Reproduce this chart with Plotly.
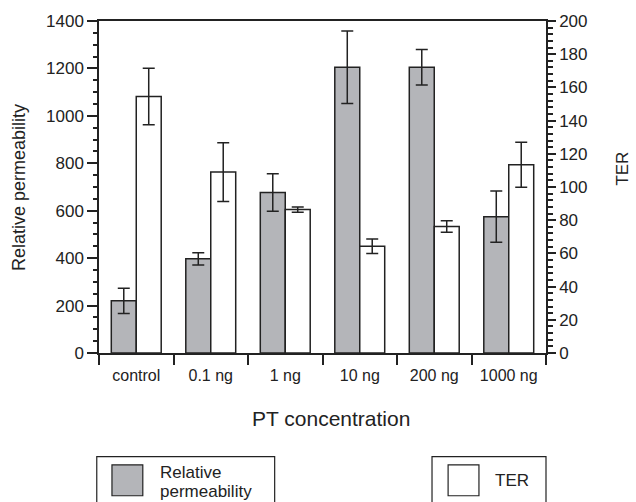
import plotly.graph_objects as go

# PT concentration groups
categories = ["control", "0.1 ng", "1 ng", "10 ng", "200 ng", "1000 ng"]

# Relative permeability (left axis) with error
perm_values = [220, 397, 677, 1205, 1205, 575]
perm_errors = [53, 26, 79, 153, 75, 108]

# Transepithelial resistance (right axis) with error
ter_values = [154.5, 109, 86.4, 64.3, 76.2, 113.4]
ter_errors = [17, 17.7, 1.6, 4.3, 3.4, 13.5]

FONT = "Liberation Sans, Arial, sans-serif"
INK = "#222222"
GRAY = "#b4b5b9"

fig = go.Figure()

fig.add_trace(go.Bar(
    x=categories, y=perm_values, name="Relative permeability",
    marker=dict(color=GRAY, line=dict(color=INK, width=1.5)),
    error_y=dict(type="data", array=perm_errors, color=INK, thickness=1.5, width=6),
    offsetgroup="perm", yaxis="y",
))
fig.add_trace(go.Bar(
    x=categories, y=ter_values, name="TER",
    marker=dict(color="white", line=dict(color=INK, width=1.5)),
    error_y=dict(type="data", array=ter_errors, color=INK, thickness=1.5, width=6),
    offsetgroup="ter", yaxis="y2",
))

axis_common = dict(
    showline=True, linecolor=INK, linewidth=1.5,
    ticks="outside", tickcolor=INK, tickwidth=1.5,
    showgrid=False, zeroline=False,
)

fig.update_layout(
    width=636, height=502,
    margin=dict(l=99, r=90, t=19, b=149),
    paper_bgcolor="white", plot_bgcolor="white",
    barmode="group", bargap=0.33, bargroupgap=0,
    showlegend=False,
    font=dict(family=FONT, color=INK),
    xaxis=dict(
        **axis_common, ticklen=10, tickson="boundaries", mirror=True,
        type="category", ticklabelstandoff=7,
        tickfont=dict(family=FONT, size=16, color=INK),
    ),
    yaxis=dict(
        **axis_common, range=[0, 1400], dtick=200, ticklen=10,
        tickfont=dict(family=FONT, size=17, color=INK),
        minor=dict(dtick=50, ticks="outside", ticklen=4, tickcolor=INK, tickwidth=1.5),
    ),
    yaxis2=dict(
        **axis_common, range=[0, 200], dtick=20, ticklen=8,
        overlaying="y", side="right",
        tickfont=dict(family=FONT, size=17, color=INK),
        minor=dict(dtick=4, ticks="outside", ticklen=5, tickcolor=INK, tickwidth=1.5),
    ),
)

# Axis titles
fig.add_annotation(text="Relative permeability", xref="paper", yref="paper",
                   x=-0.179, y=0.5, xanchor="center", yanchor="middle",
                   textangle=-90, showarrow=False,
                   font=dict(family=FONT, size=18))
fig.add_annotation(text="TER", xref="paper", yref="paper",
                   x=1.172, y=0.555, xanchor="center", yanchor="middle",
                   textangle=-90, showarrow=False,
                   font=dict(family=FONT, size=17))
fig.add_annotation(text="PT concentration", xref="paper", yref="paper",
                   x=0.519, y=-0.198, xanchor="center", yanchor="middle",
                   showarrow=False, font=dict(family=FONT, size=21))

# Boxed legend entries below the chart
fig.add_shape(type="rect", xref="paper", yref="paper",
              x0=-0.005, x1=0.393, y0=-0.49, y1=-0.312,
              line=dict(color=INK, width=1.2), fillcolor="white")
fig.add_shape(type="rect", xref="paper", yref="paper",
              x0=0.029, x1=0.098, y0=-0.43, y1=-0.337,
              line=dict(color=INK, width=1.2), fillcolor=GRAY)
fig.add_annotation(text="Relative", xref="paper", yref="paper",
                   x=0.132, y=-0.36, xanchor="left", yanchor="middle",
                   showarrow=False, font=dict(family=FONT, size=17))
fig.add_annotation(text="permeability", xref="paper", yref="paper",
                   x=0.132, y=-0.418, xanchor="left", yanchor="middle",
                   showarrow=False, font=dict(family=FONT, size=17))

fig.add_shape(type="rect", xref="paper", yref="paper",
              x0=0.745, x1=1.0, y0=-0.49, y1=-0.312,
              line=dict(color=INK, width=1.2), fillcolor="white")
fig.add_shape(type="rect", xref="paper", yref="paper",
              x0=0.781, x1=0.85, y0=-0.43, y1=-0.337,
              line=dict(color=INK, width=1.2), fillcolor="white")
fig.add_annotation(text="TER", xref="paper", yref="paper",
                   x=0.881, y=-0.383, xanchor="left", yanchor="middle",
                   showarrow=False, font=dict(family=FONT, size=17))

fig.write_html("out.html")
